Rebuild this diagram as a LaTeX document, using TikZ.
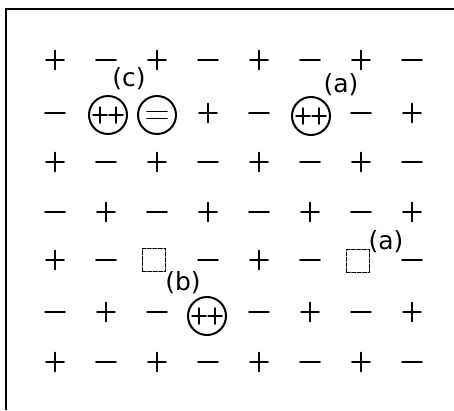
\documentclass[tikz,border=0pt]{standalone}
\usepackage{fontspec}
\setmainfont{DejaVu Sans}
\begin{document}
\begin{tikzpicture}[x=1pt,y=-1pt,line width=1.8pt,line cap=round,
  p/.pic={\draw (-9,0)--(9,0) (0,-9.5)--(0,9.5);},
  m/.pic={\draw (-10,0)--(10,0);},
  n/.pic={},
  ion/.style={circle,draw,minimum size=38pt,inner sep=0pt,line width=2pt},
  vac/.style={draw,dash pattern=on 3.5pt off 2pt,minimum size=23pt,inner sep=0pt,line width=1.7pt},
  lab/.style={font=\fontsize{25}{25}\selectfont,inner sep=0pt}]
\useasboundingbox (0,0) rectangle (454,410);
\fill[white] (0,0) rectangle (454,410);
\draw[line width=1.3pt,line cap=butt] (6,410) -- (6,9) -- (454,9);
% lattice
\foreach \row/\yy in {{p,m,p,m,p,m,p,m}/60,{m,n,n,p,m,n,m,p}/113,{p,m,p,m,p,m,p,m}/162,{m,p,m,p,m,p,m,p}/212,{p,m,n,m,p,m,n,m}/260,{m,p,m,n,m,p,m,p}/312,{p,m,p,m,p,m,p,m}/362}{
  \foreach \s [count=\c] in \row {
    \pic at ({55+51*(\c-1)},\yy) {\s};
  }
}
% defects
\node[ion] (c1) at (108,115) {};
\node[ion] (c2) at (157,115) {};
\node[ion] (a1) at (311,116) {};
\node[ion] (b1) at (207,316) {};
\foreach \nd in {c1,a1,b1}{
  \draw[line width=1.5pt] ([xshift=-15pt]\nd.center) -- ([xshift=-1pt]\nd.center)
    ([xshift=1pt]\nd.center) -- ([xshift=15pt]\nd.center)
    ([xshift=-8pt,yshift=-8pt]\nd.center) -- ([xshift=-8pt,yshift=8pt]\nd.center)
    ([xshift=8pt,yshift=-8pt]\nd.center) -- ([xshift=8pt,yshift=8pt]\nd.center);
}
\draw[line width=1.7pt] ([xshift=-10pt,yshift=-3.5pt]c2.center) -- ([xshift=10pt,yshift=-3.5pt]c2.center)
  ([xshift=-10pt,yshift=3.5pt]c2.center) -- ([xshift=10pt,yshift=3.5pt]c2.center);
\node[vac] (v1) at (154,260) {};
\node[vac] (v2) at (358,261) {};
% labels
\node[lab] (lc) at (129,79) {(c)};
\node[lab] (la1) at (341,85) {(a)};
\node[lab] (la2) at (386,242) {(a)};
\node[lab] (lb) at (183,283) {(b)};
\end{tikzpicture}
\end{document}
